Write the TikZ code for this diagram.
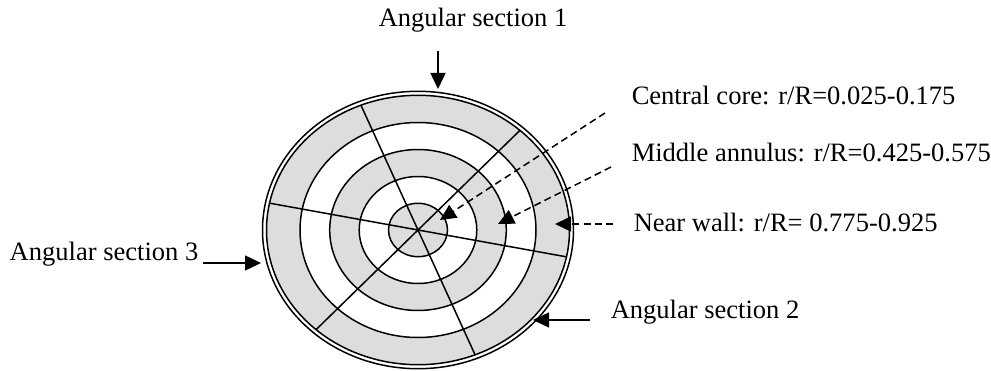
\documentclass[tikz,border=0pt]{standalone}
\usepackage{fontspec}
\setmainfont{Liberation Serif}
\usepackage{tikz}
\usetikzlibrary{arrows.meta,positioning}
\definecolor{ringgrey}{RGB}{221,221,221}

\begin{document}
\begin{tikzpicture}[
    x=0.02cm, y=-0.02cm,
    line width=0.85pt,
    lbl/.style={inner sep=0pt, anchor=base west, font=\fontsize{15.1}{18}\selectfont},
    arr/.style={-{Triangle[length=0.32cm, width=0.3cm]}},
    dasharr/.style={arr, dash pattern=on 0.14cm off 0.085cm},
    >=Stealth
]
\useasboundingbox (0,0) rectangle (991,371);
% pipe cross-section with its rings
\coordinate (c) at (418,230);
\fill[ringgrey] (c) ellipse [x radius=151.5, y radius=134.7];
\fill[white] (c) ellipse [x radius=118, y radius=107.5];
\fill[ringgrey] (c) ellipse [x radius=88.3, y radius=80.5];
\fill[white] (c) ellipse [x radius=58.8, y radius=53.5];
\fill[ringgrey] (c) ellipse [x radius=29.5, y radius=26.7];
\foreach \rx/\ry in {155.5/138.7, 151.5/134.7, 118/107.5, 88.3/80.5, 58.8/53.5, 29.5/26.7}
    \draw (c) ellipse [x radius=\rx, y radius=\ry];
% angular sections
\begin{scope}[shift={(c)}]
    \clip (0,0) ellipse [x radius=151.5, y radius=134.7];
    \draw (-75,-164) -- (75,164);
    \draw (-177,-32) -- (177,32);
    \draw (133,-130) -- (-133,130);
\end{scope}
% labels
\node[lbl] (sec1) at (378,27) {Angular section 1};
\node[lbl] (sec3) at (9,261) {Angular section 3};
\node[lbl] (sec2) at (610,318) {Angular section 2};
\node[lbl] (core) at (631,105) {Central core: r/R=0.025-0.175};
\node[lbl] (middle) at (631,162) {Middle annulus: r/R=0.425-0.575};
\node[lbl] (wall) at (633,232) {Near wall: r/R= 0.775-0.925};
% arrow tips
\coordinate (tip1) at (438,89);
\coordinate (tip2) at (533,320);
\coordinate (tip3) at (261,263);
\coordinate (tipcore) at (440,220);
\coordinate (tipmid) at (498,224);
\coordinate (tipwall) at (555,224);
\draw[arr, shorten <=0.36cm] (sec1.south -| tip1) -- (tip1);
\draw[arr, shorten <=0.08cm] (sec3.base east |- tip3) -- (tip3);
\draw[arr, shorten <=0.4cm] (sec2.base west |- tip2) -- (tip2);
\draw[dasharr] ([shift={(-26,8)}]core.base west) -- (tipcore);
\draw[dasharr] ([shift={(-20,5)}]middle.base west) -- (tipmid);
\draw[dasharr] ([shift={(-20,-8)}]wall.base west) -- (tipwall);
\end{tikzpicture}
\end{document}
